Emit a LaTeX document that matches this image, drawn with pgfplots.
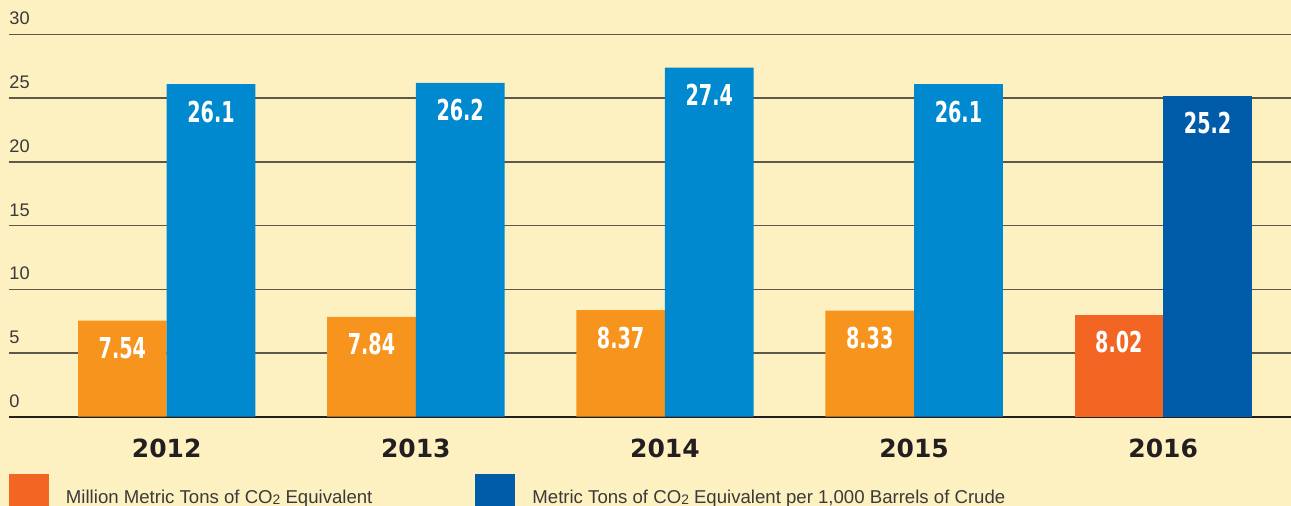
\documentclass[border=0pt]{standalone}
\usepackage{fontspec}
\usepackage{graphicx}
\setmainfont{Liberation Sans}
\newfontfamily\yearfont{DejaVu Sans}
\newfontfamily\valfont{DejaVu Sans Condensed}
\usepackage{pgfplots}
\pgfplotsset{compat=1.18}
\definecolor{bg}{HTML}{FEF1C1}
\definecolor{orA}{HTML}{F7941D}
\definecolor{orB}{HTML}{F26522}
\definecolor{blA}{HTML}{0089CF}
\definecolor{blB}{HTML}{005CA9}
\definecolor{gridc}{HTML}{5E5848}
\definecolor{zeroc}{HTML}{231F20}
\definecolor{txt}{HTML}{3A3A3A}
\newcommand{\vlab}[1]{\scalebox{0.74}[1]{#1}}
\newcommand{\sub}[1]{\raisebox{-0.12ex}{\fontsize{6.9pt}{7pt}\selectfont #1}}
\begin{document}
\begin{tikzpicture}
\fill[bg] (-4.5pt,-44.65pt) rectangle (641pt,208.35pt);
\begin{axis}[
  at={(0,0)}, anchor=south west,
  scale only axis, width=641pt, height=191.1pt,
  xmin=-0.633, xmax=4.513, ymin=0, ymax=30,
  axis line style={draw=none},
  tick style={draw=none},
  xtick={0,1,2,3,4},
  xticklabels={2012,2013,2014,2015,2016},
  xticklabel style={font=\yearfont\bfseries\fontsize{12.5pt}{14pt}\selectfont, text=zeroc, anchor=base, inner sep=0pt, yshift=-16.15pt},
  ytick={5,10,...,30},
  extra y ticks={0},
  extra y tick style={major grid style={color=zeroc, line width=1pt}},
  ymajorgrids,
  major grid style={color=gridc, line width=0.75pt},
  yticklabel style={font=\fontsize{9.1pt}{11pt}\selectfont, text=txt, anchor=base west, inner sep=0pt, yshift=4.75pt},
  /pgf/number format/assume math mode=true,
  ybar=0pt, bar width=0.356,
  every node near coord/.append style={font=\valfont\bfseries\fontsize{14.4pt}{16pt}\selectfont, text=white, anchor=base, inner sep=0pt, yshift=-19pt},
  legend style={at={(rel axis cs:0,0)}, anchor=north west, yshift=-28.65pt, draw=none, fill=none, inner sep=0pt, outer sep=0pt, font=\fontsize{9.3pt}{11pt}\selectfont, text=txt, nodes={inner sep=0pt}, /tikz/every odd column/.append style={column sep=8.5pt}, /tikz/every even column/.append style={column sep=51.5pt}},
  legend columns=2,
]
\addplot[fill=orA, draw=none, bar shift=-0.178, forget plot,
  nodes near coords={\vlab{\pgfmathprintnumber[fixed,fixed zerofill,precision=2]{\pgfplotspointmeta}}}]
  coordinates {(0,7.54) (1,7.84) (2,8.37) (3,8.33)};
\addplot[fill=orB, draw=none, bar shift=-0.178,
  legend image code/.code={\fill[orB] (0pt,12pt) rectangle (20pt,-14pt);},
  nodes near coords={\vlab{\pgfmathprintnumber[fixed,fixed zerofill,precision=2]{\pgfplotspointmeta}}}]
  coordinates {(4,8.02)};
\addlegendentry{Million Metric Tons of CO\sub{2} Equivalent}
\addplot[fill=blA, draw=none, bar shift=0.178, forget plot,
  nodes near coords={\vlab{\pgfmathprintnumber[fixed,fixed zerofill,precision=1]{\pgfplotspointmeta}}}]
  coordinates {(0,26.1) (1,26.2) (2,27.4) (3,26.1)};
\addplot[fill=blB, draw=none, bar shift=0.178,
  legend image code/.code={\fill[blB] (0pt,12pt) rectangle (20pt,-14pt);},
  nodes near coords={\vlab{\pgfmathprintnumber[fixed,fixed zerofill,precision=1]{\pgfplotspointmeta}}}]
  coordinates {(4,25.2)};
\addlegendentry{Metric Tons of CO\sub{2} Equivalent per 1,000 Barrels of Crude}
\end{axis}
\pgfresetboundingbox
\useasboundingbox (-4.5pt,-44.65pt) rectangle (641pt,208.35pt);
\end{tikzpicture}
\end{document}
